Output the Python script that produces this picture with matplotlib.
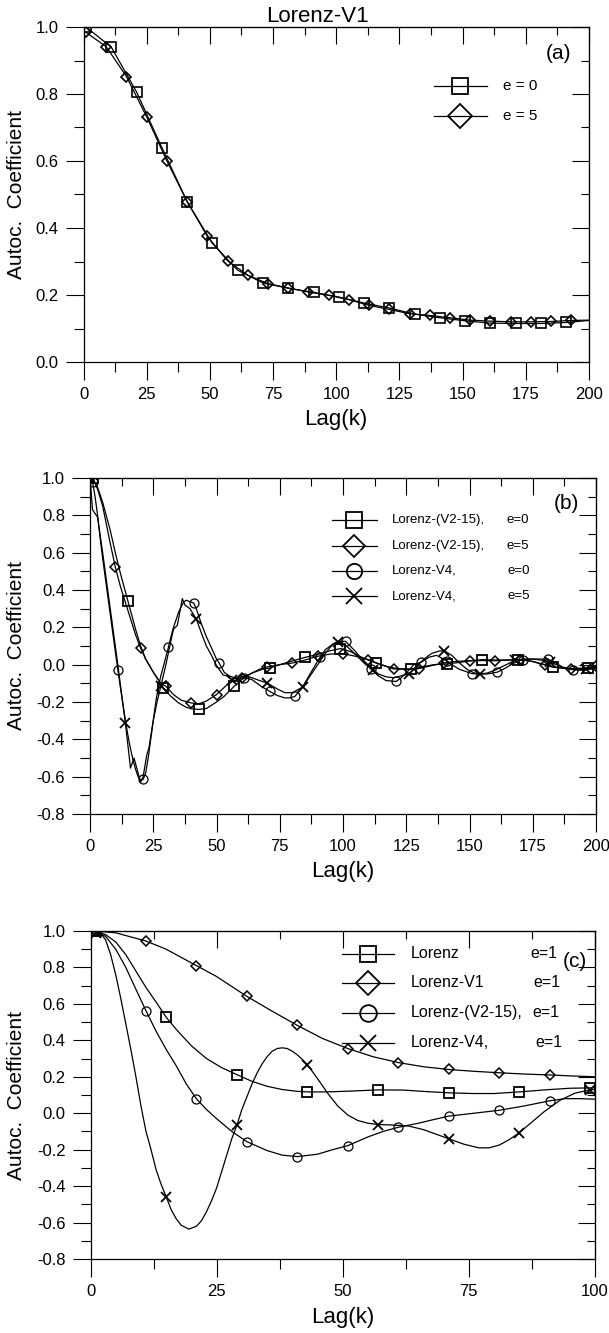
import matplotlib
matplotlib.use('Agg')
import matplotlib.pyplot as plt
from matplotlib.ticker import MultipleLocator, FormatStrFormatter, NullFormatter
from matplotlib.lines import Line2D

plt.rcParams['font.family'] = ['Liberation Sans', 'DejaVu Sans']
plt.rcParams['axes.unicode_minus'] = False

# ---------------- panel (a): Lorenz-V1 ----------------
a_e0_lag = [1, 11, 21, 31, 41, 51, 61, 71, 81, 91, 101, 111, 121, 131, 141, 151, 161, 171, 181, 191, 200]
a_e0_val = [1.0, 0.94, 0.806, 0.64, 0.479, 0.354, 0.274, 0.236, 0.22, 0.208, 0.194, 0.176, 0.161,
            0.143, 0.132, 0.123, 0.116, 0.115, 0.115, 0.118, 0.124]
a_e5_lag = [1, 9, 17, 25, 33, 41, 49, 57, 65, 73, 81, 89, 97, 105, 113, 121, 129, 137, 145, 153,
            161, 169, 177, 185, 193, 200]
a_e5_val = [0.984, 0.941, 0.852, 0.732, 0.60, 0.479, 0.375, 0.302, 0.259, 0.234, 0.221, 0.209, 0.199,
            0.186, 0.169, 0.157, 0.144, 0.139, 0.132, 0.125, 0.122, 0.12, 0.12, 0.121, 0.124, 0.125]

# ---------------- panel (b) ----------------
# Lorenz-(V2-15), e=0 : curve and square markers
b_v2e0_lag = [0, 1, 3, 5, 8, 10, 12, 15, 18, 20, 22, 25, 29, 32, 35, 38, 40, 43, 46, 50, 53, 57, 60, 64,
              68, 71, 75, 80, 85, 90, 95, 99, 103, 108, 113, 118, 122, 127, 131, 136, 141, 146, 150, 155,
              160, 165, 169, 174, 178, 183, 188, 192, 197, 200]
b_v2e0_val = [1.0, 1.0, 0.95, 0.87, 0.72, 0.6, 0.49, 0.34, 0.19, 0.10, 0.03, -0.04, -0.125, -0.17, -0.205,
              -0.228, -0.236, -0.24, -0.235, -0.2, -0.17, -0.116, -0.08, -0.045, -0.025, -0.018, 0.0, 0.02,
              0.039, 0.055, 0.075, 0.086, 0.07, 0.035, 0.009, -0.012, -0.022, -0.023, -0.012, 0.0, 0.004,
              0.012, 0.02, 0.027, 0.025, 0.025, 0.027, 0.02, 0.005, -0.014, -0.02, -0.02, -0.018, -0.015]
b_v2e0_mlag = [1, 15, 29, 43, 57, 71, 85, 99, 113, 127, 141, 155, 169, 183, 197]
b_v2e0_mval = [1.0, 0.34, -0.125, -0.24, -0.116, -0.018, 0.039, 0.086, 0.009, -0.023, 0.004, 0.027,
               0.027, -0.014, -0.018]

# Lorenz-(V2-15), e=5 : curve and diamond markers
b_v2e5_lag = [0, 1, 3, 5, 8, 10, 12, 15, 18, 20, 22, 25, 28, 30, 33, 36, 40, 43, 46, 50, 54, 57, 60, 64,
              67, 70, 75, 80, 85, 90, 95, 100, 105, 110, 115, 120, 125, 130, 135, 140, 145, 150, 155, 160,
              165, 170, 175, 180, 185, 190, 195, 200]
b_v2e5_val = [1.0, 1.0, 0.94, 0.85, 0.65, 0.523, 0.42, 0.29, 0.16, 0.089, 0.03, -0.04, -0.1, -0.116,
              -0.16, -0.19, -0.205, -0.21, -0.195, -0.16, -0.11, -0.085, -0.071, -0.045, -0.025, -0.012,
              0.0, 0.009, 0.025, 0.045, 0.057, 0.059, 0.045, 0.027, 0.0, -0.023, -0.025, -0.021, -0.005,
              0.01, 0.018, 0.021, 0.022, 0.021, 0.024, 0.027, 0.017, 0.0, -0.015, -0.023, -0.02, -0.009]
b_v2e5_mlag = [0, 10, 20, 30, 40, 50, 60, 70, 80, 90, 100, 110, 120, 130, 140, 150, 160, 170, 180, 190, 200]
b_v2e5_mval = [1.0, 0.523, 0.089, -0.116, -0.205, -0.16, -0.071, -0.012, 0.009, 0.045, 0.059, 0.027,
               -0.023, -0.021, 0.01, 0.021, 0.021, 0.027, 0.0, -0.023, -0.009]

# Lorenz-V4, e=0 : curve and circle markers
b_v4e0_lag = [0, 1, 2, 3, 4, 5, 6, 7, 8, 9, 10, 11, 12, 13, 14, 15, 16, 17, 18, 19, 20, 21, 22, 23, 24,
              25, 26, 27, 28, 29, 31, 32, 33, 34, 35, 36, 37, 38, 39, 40, 41, 42, 44, 46, 48, 50, 51, 53,
              55, 58, 61, 64, 67, 71, 74, 77, 79, 81, 84, 87, 90, 93, 96, 98, 101, 105, 108, 111, 114,
              117, 121, 123, 126, 128, 131, 134, 137, 141, 143, 146, 151, 153, 157, 161, 164, 167, 171,
              174, 178, 181, 184, 187, 191, 194, 197, 200]
b_v4e0_val = [1.0, 0.98, 0.9, 0.8, 0.68, 0.57, 0.47, 0.37, 0.27, 0.17, 0.07, -0.027, -0.12, -0.21, -0.3,
              -0.38, -0.45, -0.51, -0.56, -0.6, -0.618, -0.615, -0.58, -0.5, -0.4, -0.3, -0.2, -0.12,
              -0.06, -0.01, 0.093, 0.15, 0.2, 0.24, 0.28, 0.31, 0.335, 0.345, 0.34, 0.335, 0.33, 0.3,
              0.22, 0.15, 0.09, 0.03, 0.01, -0.04, -0.06, -0.075, -0.07, -0.08, -0.11, -0.143, -0.165,
              -0.178, -0.178, -0.17, -0.12, -0.05, 0.02, 0.08, 0.11, 0.125, 0.125, 0.07, 0.02, -0.023,
              -0.06, -0.085, -0.09, -0.07, -0.03, 0.0, 0.014, 0.04, 0.05, 0.02, 0.0, -0.025, -0.048,
              -0.05, -0.05, -0.04, -0.02, 0.005, 0.027, 0.03, 0.03, 0.03, 0.01, -0.015, -0.027, -0.03,
              -0.025, -0.02]
b_v4e0_mlag = [1, 11, 21, 31, 41, 51, 61, 71, 81, 91, 101, 111, 121, 131, 141, 151, 161, 171, 181, 191]
b_v4e0_mval = [0.98, -0.027, -0.615, 0.093, 0.33, 0.01, -0.07, -0.143, -0.17, 0.04, 0.125, -0.023,
               -0.09, 0.014, 0.02, -0.048, -0.04, 0.027, 0.03, -0.027]

# Lorenz-V4, e=5 : curve and cross markers
b_v4e5_lag = [0, 1, 3, 5, 7, 9, 11, 12.5, 14, 16, 17.4, 19, 20, 21, 22.5, 23.3, 25, 26.5, 28, 30, 32, 33,
              34.5, 36.5, 37.5, 39.5, 42, 44, 46, 48, 50, 52.6, 54, 56, 58, 61, 64, 67, 70, 74, 77, 80, 84,
              87, 90, 93, 96, 98, 100, 103, 106, 109, 112, 114, 117, 120, 123, 126, 129, 132, 135, 138,
              140, 143, 146, 149, 152, 154, 157, 160, 163, 166, 168, 171, 175, 178, 182, 186, 189, 193,
              196, 200]
b_v4e5_val = [1.0, 0.83, 0.79, 0.6, 0.4, 0.2, 0.0, -0.16, -0.313, -0.554, -0.5, -0.58, -0.63, -0.6, -0.48,
              -0.446, -0.3, -0.2, -0.116, 0.0, 0.13, 0.19, 0.21, 0.354, 0.32, 0.3, 0.245, 0.17, 0.1, 0.05,
              -0.005, -0.055, -0.06, -0.08, -0.07, -0.06, -0.07, -0.085, -0.098, -0.13, -0.15, -0.15,
              -0.12, -0.06, 0.0, 0.06, 0.11, 0.121, 0.115, 0.08, 0.04, 0.0, -0.027, -0.05, -0.065, -0.07,
              -0.06, -0.05, -0.01, 0.03, 0.06, 0.073, 0.075, 0.05, 0.01, -0.025, -0.045, -0.05, -0.045,
              -0.03, -0.01, 0.01, 0.023, 0.03, 0.03, 0.025, 0.014, -0.01, -0.022, -0.025, -0.023, -0.02]
b_v4e5_mlag = [0, 14, 28, 42, 56, 70, 84, 98, 112, 126, 140, 154, 168, 182, 196]
b_v4e5_mval = [1.0, -0.313, -0.116, 0.245, -0.08, -0.098, -0.12, 0.121, -0.027, -0.05, 0.075, -0.05,
               0.023, 0.014, -0.023]

# ---------------- panel (c): e=1 ----------------
c_lor_lag = [1, 3, 5, 7, 9, 11, 13, 15, 17, 20, 23, 26, 29, 32, 35, 38, 41, 43, 47, 52, 57, 62, 67, 71,
             76, 80, 85, 90, 95, 99, 100]
c_lor_val = [1.0, 0.98, 0.94, 0.87, 0.78, 0.69, 0.61, 0.527, 0.46, 0.37, 0.3, 0.25, 0.212, 0.175, 0.148,
             0.13, 0.12, 0.117, 0.117, 0.122, 0.128, 0.127, 0.118, 0.112, 0.108, 0.108, 0.117, 0.128,
             0.137, 0.139, 0.14]
c_lor_mlag = [1, 15, 29, 43, 57, 71, 85, 99]
c_lor_mval = [1.0, 0.527, 0.212, 0.117, 0.128, 0.112, 0.117, 0.139]

c_v1_lag = [1, 5, 11, 15, 21, 25, 31, 36, 41, 46, 51, 56, 61, 66, 71, 76, 81, 86, 91, 95, 100]
c_v1_val = [1.0, 0.99, 0.945, 0.9, 0.81, 0.75, 0.641, 0.56, 0.482, 0.41, 0.355, 0.31, 0.278, 0.255, 0.24,
            0.23, 0.222, 0.215, 0.21, 0.205, 0.2]
c_v1_mlag = [1, 11, 21, 31, 41, 51, 61, 71, 81, 91]
c_v1_mval = [1.0, 0.945, 0.81, 0.641, 0.482, 0.355, 0.278, 0.24, 0.222, 0.21]

c_v2_lag = [1, 3, 5, 7, 9, 11, 13, 15, 17, 19, 21, 23, 25, 28, 31, 35, 38, 41, 45, 48, 51, 55, 58, 61,
            65, 68, 71, 76, 81, 86, 91, 94, 97, 100]
c_v2_val = [1.0, 0.97, 0.9, 0.8, 0.68, 0.562, 0.45, 0.35, 0.26, 0.16, 0.079, 0.02, -0.03, -0.1, -0.156,
            -0.205, -0.23, -0.238, -0.225, -0.2, -0.178, -0.13, -0.1, -0.077, -0.055, -0.035, -0.016,
            0.0, 0.016, 0.04, 0.068, 0.08, 0.08, 0.077]
c_v2_mlag = [1, 11, 21, 31, 41, 51, 61, 71, 81, 91]
c_v2_mval = [1.0, 0.562, 0.079, -0.156, -0.238, -0.178, -0.077, -0.016, 0.016, 0.068]

c_v4_lag = [1, 2, 3, 4, 5, 6, 7, 8, 9, 10, 11, 12, 13, 14, 15, 16, 17, 18, 19.5, 21, 22, 23, 24, 25, 26,
            27, 28, 29, 30, 31, 32, 33, 34, 35, 36, 37, 38, 39, 40, 41, 42, 43, 45, 47, 49, 51, 53, 55,
            57, 60, 63, 66, 69, 71, 74, 77, 79, 81, 83, 85, 87, 90, 93, 96, 99, 100]
c_v4_val = [0.99, 0.99, 0.95, 0.87, 0.76, 0.63, 0.49, 0.35, 0.2, 0.04, -0.1, -0.2, -0.31, -0.39, -0.458,
            -0.53, -0.58, -0.615, -0.636, -0.62, -0.59, -0.54, -0.48, -0.41, -0.32, -0.23, -0.14, -0.067,
            0.02, 0.09, 0.16, 0.22, 0.27, 0.31, 0.34, 0.355, 0.359, 0.355, 0.34, 0.32, 0.295, 0.266, 0.19,
            0.11, 0.04, -0.01, -0.04, -0.055, -0.062, -0.065, -0.07, -0.09, -0.12, -0.14, -0.17, -0.19,
            -0.19, -0.175, -0.145, -0.107, -0.06, 0.01, 0.07, 0.11, 0.128, 0.13]
c_v4_mlag = [1, 15, 29, 43, 57, 71, 85, 99]
c_v4_mval = [0.99, -0.458, -0.067, 0.266, -0.062, -0.14, -0.107, 0.128]


def style_axes(ax, xmax, ymin):
    ax.set_xlim(0, xmax)
    ax.set_ylim(ymin, 1.0)
    ax.xaxis.set_major_locator(MultipleLocator(25))
    ax.xaxis.set_minor_locator(MultipleLocator(12.5))
    ax.yaxis.set_major_locator(MultipleLocator(0.2))
    ax.yaxis.set_minor_locator(MultipleLocator(0.1))
    ax.yaxis.set_major_formatter(FormatStrFormatter('%.1f'))
    ax.tick_params(which='major', direction='out', length=13, width=0.8, pad=5,
                   labelsize=12, top=False, right=False)
    ax.tick_params(which='minor', direction='out', length=7, width=0.8, top=False, right=False)
    for s in ax.spines.values():
        s.set_linewidth(0.9)
    top = ax.secondary_xaxis('top')
    top.xaxis.set_major_locator(MultipleLocator(25))
    top.xaxis.set_minor_locator(MultipleLocator(12.5))
    top.xaxis.set_major_formatter(NullFormatter())
    top.tick_params(which='major', direction='in', length=12, width=0.8)
    top.tick_params(which='minor', direction='in', length=6, width=0.8)
    right = ax.secondary_yaxis('right')
    right.yaxis.set_major_locator(MultipleLocator(0.2))
    right.yaxis.set_minor_locator(MultipleLocator(0.1))
    right.yaxis.set_major_formatter(NullFormatter())
    right.tick_params(which='major', direction='in', length=12, width=0.8)
    right.tick_params(which='minor', direction='in', length=6, width=0.8)
    ax.set_xlabel('Lag(k)', fontsize=16)
    ax.set_ylabel('Autoc.  Coefficient', fontsize=15)


def legend_rows(ax, rows, x0, x1, xt, xe, ys, fs, ms):
    xm = (x0 + x1) / 2
    for (marker, name, eval_txt), y, xe_i in zip(rows, ys, xe):
        ax.add_line(Line2D([x0, x1], [y, y], transform=ax.transAxes, color='black', lw=0.9))
        ax.add_line(Line2D([xm], [y], transform=ax.transAxes, marker=marker, ms=ms,
                           mfc='none', mec='black', mew=1.3, color='black'))
        ax.text(xt, y, name, transform=ax.transAxes, fontsize=fs, va='center', ha='left')
        ax.text(xe_i, y, eval_txt, transform=ax.transAxes, fontsize=fs, va='center', ha='left')


fig = plt.figure(figsize=(6.09, 13.33), dpi=100)

line_kw = dict(color='black', lw=0.9)
mk_kw = dict(ls='none', mfc='none', mec='black')

# ---- (a)
ax_a = fig.add_axes([83.5 / 609, 1 - 362 / 1333, 505.5 / 609, 335 / 1333])
ax_a.plot(a_e0_lag, a_e0_val, **line_kw)
ax_a.plot(a_e5_lag, a_e5_val, **line_kw)
ax_a.plot(a_e0_lag[:-1], a_e0_val[:-1], marker='s', ms=7, mew=1.2, **mk_kw)
ax_a.plot(a_e5_lag[:-1], a_e5_val[:-1], marker='D', ms=5.5, mew=1.2, **mk_kw)
style_axes(ax_a, 200, 0.0)
legend_rows(ax_a, [('s', 'e = 0', ''), ('D', 'e = 5', '')],
            0.6935, 0.7975, 0.83, [0.9, 0.9], [0.825, 0.734], 11, 12)
ax_a.text(0.94, 0.922, '(a)', transform=ax_a.transAxes, fontsize=15, ha='center', va='center')
fig.text(317 / 609, 1 - 16 / 1333, 'Lorenz-V1', fontsize=16, ha='center', va='center')

# ---- (b)
ax_b = fig.add_axes([90 / 609, 1 - 814 / 1333, 506 / 609, 336 / 1333])
ax_b.plot(b_v2e0_lag, b_v2e0_val, **line_kw)
ax_b.plot(b_v2e5_lag, b_v2e5_val, **line_kw)
ax_b.plot(b_v4e0_lag, b_v4e0_val, **line_kw)
ax_b.plot(b_v4e5_lag, b_v4e5_val, **line_kw)
ax_b.plot(b_v2e0_mlag, b_v2e0_mval, marker='s', ms=6.5, mew=1.3, **mk_kw)
ax_b.plot(b_v2e5_mlag, b_v2e5_mval, marker='D', ms=5, mew=1.1, **mk_kw)
ax_b.plot(b_v4e0_mlag, b_v4e0_mval, marker='o', ms=6.5, mew=0.9, **mk_kw)
ax_b.plot(b_v4e5_mlag, b_v4e5_mval, marker='x', ms=7, mew=1.3, **mk_kw)
style_axes(ax_b, 200, -0.8)
legend_rows(ax_b, [('s', 'Lorenz-(V2-15),', 'e=0'), ('D', 'Lorenz-(V2-15),', 'e=5'),
                   ('o', 'Lorenz-V4,', 'e=0'), ('x', 'Lorenz-V4,', 'e=5')],
            0.478, 0.5665, 0.596, [0.8235, 0.8235, 0.826, 0.826],
            [0.876, 0.799, 0.724, 0.648], 9.5, 11)
ax_b.text(0.9425, 0.923, '(b)', transform=ax_b.transAxes, fontsize=15, ha='center', va='center')

# ---- (c)
ax_c = fig.add_axes([90.5 / 609, 1 - 1259 / 1333, 504.5 / 609, 328 / 1333])
ax_c.plot(c_lor_lag, c_lor_val, **line_kw)
ax_c.plot(c_v1_lag, c_v1_val, **line_kw)
ax_c.plot(c_v2_lag, c_v2_val, **line_kw)
ax_c.plot(c_v4_lag, c_v4_val, **line_kw)
ax_c.plot(c_lor_mlag, c_lor_mval, marker='s', ms=6.5, mew=1.3, **mk_kw)
ax_c.plot(c_v1_mlag, c_v1_mval, marker='D', ms=5, mew=1.1, **mk_kw)
ax_c.plot(c_v2_mlag, c_v2_mval, marker='o', ms=6.5, mew=0.9, **mk_kw)
ax_c.plot(c_v4_mlag, c_v4_mval, marker='x', ms=7, mew=1.3, **mk_kw)
style_axes(ax_c, 100, -0.8)
legend_rows(ax_c, [('s', 'Lorenz', 'e=1'), ('D', 'Lorenz-V1', 'e=1'),
                   ('o', 'Lorenz-(V2-15),', 'e=1'), ('x', 'Lorenz-V4,', 'e=1')],
            0.499, 0.601, 0.635, [0.872, 0.878, 0.876, 0.882],
            [0.931, 0.842, 0.751, 0.659], 11.5, 12)
ax_c.text(0.96, 0.906, '(c)', transform=ax_c.transAxes, fontsize=15, ha='center', va='center')

# label positions
for ax, yl, xl in [(ax_a, -0.1325, -0.173), (ax_b, -0.146, -0.1726), (ax_c, -0.1457, -0.177)]:
    ax.yaxis.set_label_coords(yl, 0.5)
    ax.yaxis.label.set_va('center')
    ax.xaxis.set_label_coords(0.5, xl)
    ax.xaxis.label.set_va('center')

fig.savefig('out.png', dpi=100)
